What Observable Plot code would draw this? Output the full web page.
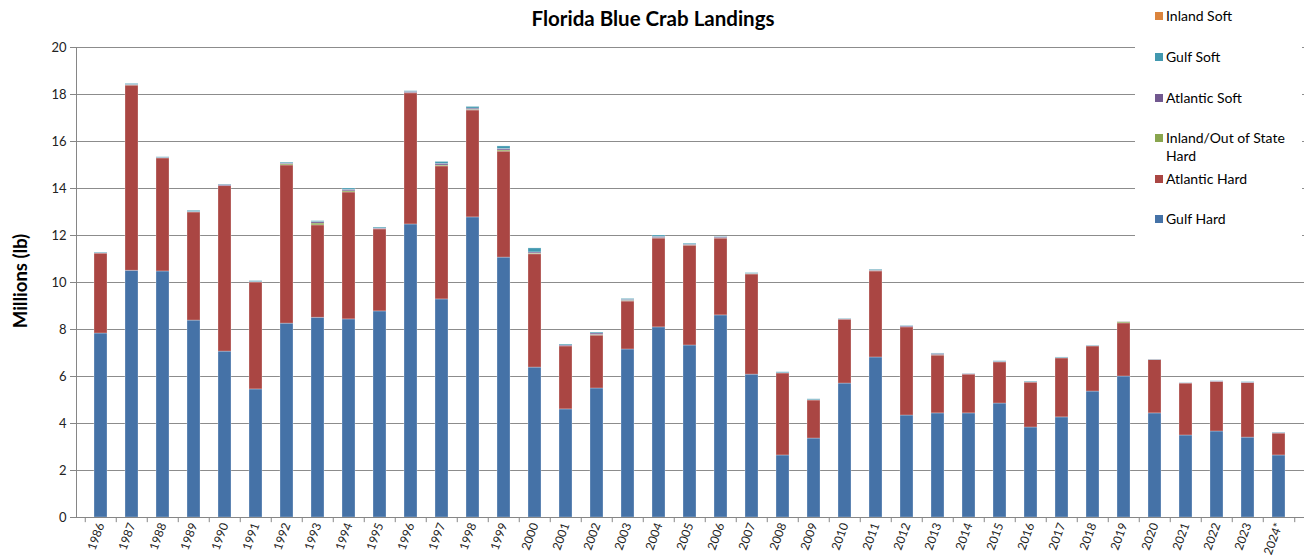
<!DOCTYPE html>
<html>
<head>
<meta charset="utf-8">
<script src="https://cdn.jsdelivr.net/npm/d3@7"></script>
<script src="https://cdn.jsdelivr.net/npm/@observablehq/plot@0.6"></script>
<style>
  html, body { margin: 0; padding: 0; background: #fff; }
  #wrap { position: relative; width: 1306px; height: 558px; font-family: Lato, "Open Sans", sans-serif; }
  #title { position: absolute; left: 0; width: 1306px; top: 6px; text-align: center; font-weight: bold; font-size: 20.5px; color: #000; }
  #ylabel { position: absolute; left: 20px; top: 281px; transform: translate(-50%, -50%) rotate(-90deg); font-weight: bold; font-size: 18.5px; white-space: nowrap; color: #000; }
  #legend { position: absolute; left: 1135px; top: 0; width: 167px; height: 245px; background: #fff; font-size: 14px; color: #000; }
  .li { position: absolute; left: 20px; line-height: 18px; }
  .sw { position: absolute; left: 0; top: 5px; width: 8px; height: 8px; }
  .lt { position: absolute; left: 11px; top: 0; white-space: nowrap; }
</style>
</head>
<body>
<div id="wrap">
  <div id="chart"></div>
  <div id="title">Florida Blue Crab Landings</div>
  <div id="ylabel">Millions (lb)</div>
  <div id="legend"></div>
</div>
<script>
const years = ["1986","1987","1988","1989","1990","1991","1992","1993","1994","1995","1996","1997","1998","1999","2000","2001","2002","2003","2004","2005","2006","2007","2008","2009","2010","2011","2012","2013","2014","2015","2016","2017","2018","2019","2020","2021","2022","2023","2024*"];
const gulfHard = [7.83,10.50,10.47,8.38,7.06,5.45,8.25,8.50,8.43,8.77,12.47,9.28,12.77,11.06,6.38,4.60,5.49,7.15,8.09,7.32,8.60,6.08,2.64,3.36,5.70,6.81,4.34,4.43,4.43,4.85,3.83,4.26,5.36,6.00,4.43,3.49,3.66,3.40,2.64];
const atlanticHard = [3.40,7.88,4.81,4.60,7.04,4.55,6.73,3.93,5.40,3.49,5.58,5.66,4.55,4.51,4.82,2.68,2.25,2.04,3.78,4.25,3.27,4.26,3.49,1.62,2.72,3.66,3.75,2.46,1.65,1.75,1.91,2.51,1.92,2.26,2.27,2.21,2.11,2.32,0.93];
const inlandHard = [0.00,0.01,0.00,0.00,0.00,0.00,0.05,0.08,0.05,0.01,0.01,0.04,0.03,0.05,0.03,0.00,0.03,0.03,0.02,0.01,0.01,0.02,0.00,0.00,0.00,0.02,0.00,0.02,0.00,0.00,0.00,0.00,0.00,0.05,0.00,0.00,0.00,0.00,0.00];
const atlanticSoft = [0.01,0.02,0.02,0.02,0.05,0.02,0.03,0.06,0.06,0.03,0.05,0.07,0.05,0.06,0.05,0.04,0.06,0.04,0.05,0.03,0.04,0.01,0.01,0.01,0.01,0.03,0.04,0.05,0.02,0.02,0.01,0.01,0.01,0.01,0.01,0.01,0.02,0.02,0.02];
const gulfSoft = [0.03,0.04,0.03,0.05,0.02,0.04,0.04,0.04,0.06,0.04,0.03,0.08,0.07,0.11,0.17,0.04,0.04,0.04,0.06,0.04,0.02,0.03,0.04,0.04,0.02,0.03,0.02,0.02,0.01,0.03,0.03,0.03,0.02,0.00,0.01,0.01,0.01,0.02,0.02];
const inlandSoft = [0,0,0,0,0,0,0,0,0,0,0,0,0,0,0,0,0,0,0,0,0,0,0,0,0,0,0,0,0,0,0,0,0,0,0,0,0,0,0];

const seriesNames = ["Gulf Hard","Atlantic Hard","Inland/Out of State Hard","Atlantic Soft","Gulf Soft","Inland Soft"];
const seriesColors = ["#4572A7","#AA4643","#89A54E","#71588F","#4198AF","#DB843D"];
const seriesValues = [gulfHard, atlanticHard, inlandHard, atlanticSoft, gulfSoft, inlandSoft];
const yTicks = [0,2,4,6,8,10,12,14,16,18,20];

const rows = [];
years.forEach((yr, i) => {
  seriesNames.forEach((s, k) => rows.push({year: yr, series: s, value: seriesValues[k][i]}));
});

const W = 1306, H = 558, ML = 76, MR = 2, MT = 47, MB = 41;
const step = (W - ML - MR) / years.length;

const chart = Plot.plot({
  width: W, height: H,
  marginLeft: ML, marginRight: MR, marginTop: MT, marginBottom: MB,
  style: {fontFamily: "Lato, 'Open Sans', sans-serif", fontSize: "12px", color: "#000", background: "transparent"},
  x: {domain: years, paddingInner: 0.58, paddingOuter: 0.29, label: null},
  y: {domain: [0, 20], ticks: yTicks, label: null},
  color: {domain: seriesNames, range: seriesColors},
  marks: [
    Plot.gridY(yTicks.filter(d => d > 0), {stroke: "#8c8c8c", strokeOpacity: 1, strokeWidth: 1.2}),
    Plot.barY(rows, {x: "year", y: "value", fill: "series", order: seriesNames, stroke: "#ffffff", strokeOpacity: 0.35, strokeWidth: 0.8}),
    Plot.frame({anchor: "left", stroke: "#868686"}),
    Plot.ruleY([0], {stroke: "#868686"}),
    Plot.ruleX(years, {x: d => d, dx: -step / 2, y1: 0, y2: -0.22, stroke: "#868686"}),
    Plot.ruleX([years[years.length - 1]], {x: d => d, dx: step / 2, y1: 0, y2: -0.22, stroke: "#868686"}),
    Plot.axisY({ticks: yTicks, tickSize: 6, tickPadding: 4, stroke: "#868686", fontSize: 13, fill: "#222", label: null}),
    Plot.axisX({tickSize: 0, tickRotate: -70, tickPadding: 6, fontSize: 12, fill: "#222", label: null})
  ]
});
document.getElementById("chart").appendChild(chart);

// legend (Excel order: top of stack first)
const legendItems = [
  {name: "Inland Soft", y: 7},
  {name: "Gulf Soft", y: 48},
  {name: "Atlantic Soft", y: 89},
  {name: "Inland/Out of State\nHard", y: 129},
  {name: "Atlantic Hard", y: 170},
  {name: "Gulf Hard", y: 210}
];
const leg = document.getElementById("legend");
legendItems.forEach(it => {
  const k = seriesNames.indexOf(it.name.replace("\n", " "));
  const d = document.createElement("div");
  d.className = "li";
  d.style.top = it.y + "px";
  const sw = document.createElement("div");
  sw.className = "sw";
  sw.style.background = seriesColors[k];
  const t = document.createElement("div");
  t.className = "lt";
  t.innerHTML = it.name.replace("\n", "<br>");
  d.appendChild(sw); d.appendChild(t);
  leg.appendChild(d);
});
</script>
</body>
</html>
